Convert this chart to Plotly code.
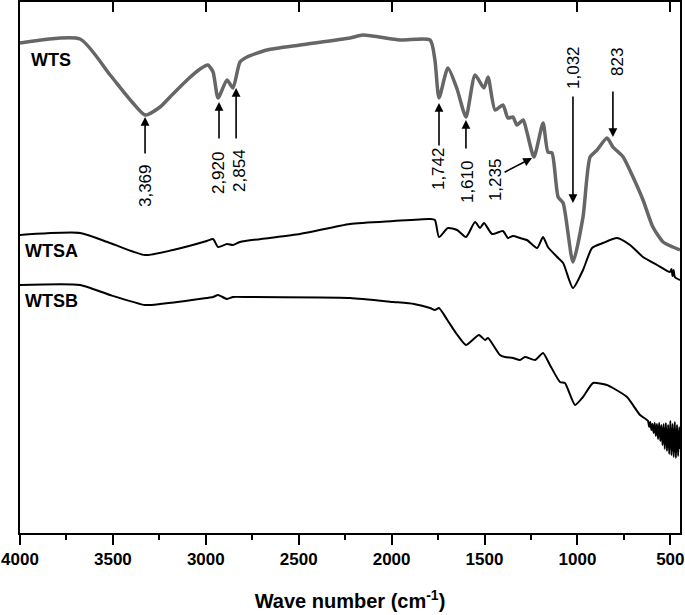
import plotly.graph_objects as go

# ---------------- data (wavenumber cm^-1, transmittance a.u.) ----------------
wts_wn = [4000, 3677, 3515, 3397, 3327, 3246, 3177, 3095, 3031, 2989, 2961, 2934, 2886,
          2854, 2816, 2778, 2671, 2493, 2224, 2154, 1955, 1793, 1767, 1745, 1697, 1648,
          1600, 1551, 1503, 1481, 1443, 1401, 1374, 1347, 1326, 1292, 1272, 1234, 1185,
          1159, 1137, 1104, 1077, 1024, 970, 932, 894, 841, 809, 754, 701, 647, 594,
          539, 486, 448]
wts_val = [506, 510, 474, 447, 434, 442, 455, 470, 480, 484, 477, 451, 469,
           461, 487, 492, 499, 504, 511, 514, 509, 509, 489, 451, 481, 460,
           432, 474, 461, 472, 439, 444, 431, 432, 424, 429, 417, 392, 426,
           397, 396, 352, 346, 287, 332, 392, 399, 411, 402, 392, 372, 349, 322,
           307, 302, 299]

wtsa_wn = [4000, 3677, 3515, 3327, 3177, 2995, 2961, 2934, 2886, 2854, 2816, 2493, 2224,
           1989, 1793, 1767, 1745, 1697, 1648, 1600, 1551, 1524, 1503, 1459, 1401, 1374,
           1347, 1309, 1272, 1217, 1185, 1159, 1109, 1077, 1024, 970, 921, 862, 787, 717,
           647, 571, 502, 494, 488, 482, 476, 448]
wtsa_val = [314, 316, 306, 294, 299, 308, 310, 302, 305, 304, 307, 315, 325,
            328, 330, 329, 312, 321, 319, 312, 327, 321, 326, 315, 318, 311,
            313, 311, 309, 301, 312, 302, 292, 286, 261, 279, 301, 306, 311, 304,
            292, 284, 277, 280, 273, 279, 272, 269]

wtsb_wn = [4000, 3677, 3515, 3327, 3246, 2995, 2961, 2934, 2886, 2854, 2778, 2224, 1989,
           1880, 1793, 1767, 1745, 1700, 1650, 1600, 1530, 1497,
           1481, 1417, 1390, 1347, 1309, 1282, 1228, 1185, 1148, 1094, 1067, 1013, 970,
           916, 841, 809, 733, 663,
           620, 614, 608, 602, 596, 590, 584, 578, 572, 566, 560, 554, 548, 542, 536,
           530, 524, 518, 512, 506, 500, 494, 488, 482, 476, 470, 464, 458, 452, 449]
wtsb_val = [264, 264, 254, 244, 245, 251, 252, 254, 250, 252, 252, 251, 247,
            245, 241, 239, 241, 229, 215, 204, 214, 209,
            211, 194, 192, 191, 189, 192, 189, 196, 184, 167, 166, 144, 152,
            166, 164, 161, 152, 134,
            128, 122, 127, 119, 125, 116, 126, 113, 125, 110, 126, 108, 124, 104, 125,
            100, 126, 98, 124, 95, 128, 94, 125, 92, 127, 91, 124, 93, 122, 100]

series_names = ["WTS", "WTSA", "WTSB"]

# peak annotations: label, arrow x, arrow tail y, arrow tip y, label x, label y
peak_labels = ["3,369", "2,920", "2,854", "1,742", "1,610", "1,032", "823"]
peak_arrow_x = [3327, 2929, 2837, 1745, 1600, 1024, 809]
peak_tail_y = [394, 409, 409, 402, 399, 454, 459]
peak_tip_y = [432, 447, 461, 446, 429, 346, 412]
peak_label_x = [3327, 2934, 2822, 1750, 1594, 1024, 787]
peak_label_y = [363, 376, 379, 380, 367, 482, 487]

diag_label = "1,235"
diag_label_pos = (1443, 369)
diag_tail = (1400, 376)
diag_tip = (1244, 391)

x_ticks = [4000, 3500, 3000, 2500, 2000, 1500, 1000, 500]

FONT = "Liberation Sans, Arial, sans-serif"

fig = go.Figure()
fig.add_trace(go.Scatter(x=wts_wn, y=wts_val, mode="lines", name=series_names[0],
                         line=dict(color="#666666", width=3.5, shape="spline", smoothing=0.6)))
fig.add_trace(go.Scatter(x=wtsa_wn, y=wtsa_val, mode="lines", name=series_names[1],
                         line=dict(color="black", width=2, shape="spline", smoothing=0.6)))
fig.add_trace(go.Scatter(x=wtsb_wn, y=wtsb_val, mode="lines", name=series_names[2],
                         line=dict(color="black", width=2, shape="spline", smoothing=0.5)))
# invisible trace to activate top axis
fig.add_trace(go.Scatter(x=[x_ticks[0]], y=[wts_val[0]], xaxis="x2", mode="markers",
                         marker=dict(opacity=0), showlegend=False, hoverinfo="skip"))

annotations = []
# series labels
label_pos = [(3952, 489), (3984, 298), (3984, 248)]
for name, (lx, ly) in zip(series_names, label_pos):
    annotations.append(dict(x=lx, y=ly, xref="x", yref="y", text="<b>%s</b>" % name,
                            showarrow=False, xanchor="left", yanchor="middle",
                            font=dict(family=FONT, size=18, color="black")))

for lab, axx, ty, py, lx, ly in zip(peak_labels, peak_arrow_x, peak_tail_y, peak_tip_y,
                                     peak_label_x, peak_label_y):
    annotations.append(dict(x=axx, y=py, ax=axx, ay=ty, xref="x", yref="y",
                            axref="x", ayref="y", text="", showarrow=True,
                            arrowhead=2, arrowsize=1.1, arrowwidth=1.6, arrowcolor="black"))
    annotations.append(dict(x=lx, y=ly, xref="x", yref="y", text=lab, showarrow=False,
                            textangle=-90, xanchor="center", yanchor="middle",
                            font=dict(family=FONT, size=17, color="black")))

annotations.append(dict(x=diag_tip[0], y=diag_tip[1], ax=diag_tail[0], ay=diag_tail[1],
                        xref="x", yref="y", axref="x", ayref="y", text="", showarrow=True,
                        arrowhead=2, arrowsize=1.1, arrowwidth=1.6, arrowcolor="black"))
annotations.append(dict(x=diag_label_pos[0], y=diag_label_pos[1], xref="x", yref="y",
                        text=diag_label, showarrow=False, textangle=-90,
                        xanchor="center", yanchor="middle",
                        font=dict(family=FONT, size=17, color="black")))

fig.update_layout(
    width=685, height=615,
    margin=dict(l=20, r=5, t=2, b=82),
    paper_bgcolor="white", plot_bgcolor="white",
    showlegend=False,
    font=dict(family=FONT, color="black"),
    xaxis=dict(range=[4000, 448], showline=True, linecolor="black", linewidth=2,
               mirror=True, ticks="outside", ticklen=10, tickwidth=2, tickcolor="black",
               tickvals=x_ticks, showgrid=False, zeroline=False, automargin=False,
               minor=dict(ticks="outside", ticklen=5, tickwidth=2, dtick=250,
                          tickcolor="black", showgrid=False),
               tickfont=dict(family=FONT, size=17, weight="bold"),
               title=dict(text="<b>Wave number (cm<sup>-1</sup>)</b>",
                          font=dict(family=FONT, size=20), standoff=26)),
    xaxis2=dict(range=[4000, 448], overlaying="x", side="top", ticks="inside",
                ticklen=10, tickwidth=2, tickcolor="black", tickvals=x_ticks,
                showticklabels=False, showline=False, showgrid=False, zeroline=False,
                automargin=False),
    yaxis=dict(range=[16, 547], showline=True, linecolor="black", linewidth=2,
               mirror=True, ticks="", showticklabels=False, showgrid=False,
               zeroline=False, automargin=False),
    annotations=annotations,
)

fig.write_html("out.html", config={"displayModeBar": False},
               post_script="document.body.style.margin='0';document.body.style.overflow='hidden';")
